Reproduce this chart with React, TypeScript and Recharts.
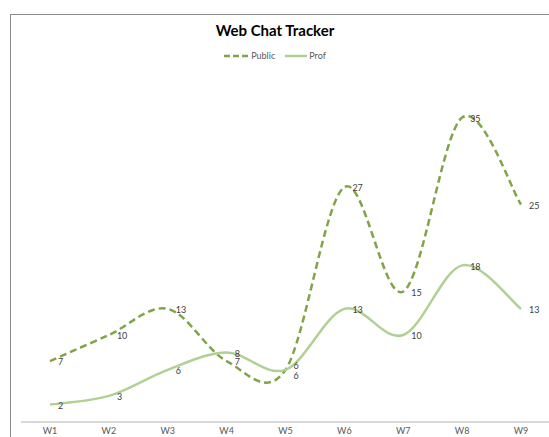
import React from 'react';
import { LineChart, Line, XAxis, YAxis, LabelList } from 'recharts';

const weeks = ['W1', 'W2', 'W3', 'W4', 'W5', 'W6', 'W7', 'W8', 'W9'];
const publicChats = [7, 10, 13, 7, 6, 27, 15, 35, 25];
const profChats = [2, 3, 6, 8, 6, 13, 10, 18, 13];

const data = weeks.map((w, i) => ({ week: w, Public: publicChats[i], Prof: profChats[i] }));

const FONT = 'Lato, "Open Sans", sans-serif';
const PUBLIC_COLOR = '#80a447';
const PROF_COLOR = '#b0d094';

// smooth curve like Excel's "smoothed line" (Catmull-Rom style bezier)
class SmoothCurve {
  ctx: any;
  pts: [number, number][] = [];
  constructor(ctx: any) {
    this.ctx = ctx;
  }
  areaStart() {}
  areaEnd() {}
  lineStart() {
    this.pts = [];
  }
  point(x: number, y: number) {
    this.pts.push([+x, +y]);
  }
  lineEnd() {
    const p = this.pts;
    if (!p.length) return;
    this.ctx.moveTo(p[0][0], p[0][1]);
    for (let i = 0; i < p.length - 1; i++) {
      const p0 = p[i - 1] || p[i];
      const p1 = p[i];
      const p2 = p[i + 1];
      const p3 = p[i + 2] || p2;
      this.ctx.bezierCurveTo(
        p1[0] + (p2[0] - p0[0]) / 6,
        p1[1] + (p2[1] - p0[1]) / 6,
        p2[0] - (p3[0] - p1[0]) / 6,
        p2[1] - (p3[1] - p1[1]) / 6,
        p2[0],
        p2[1]
      );
    }
  }
}
const smooth = (ctx: any) => new SmoothCurve(ctx);

const makeLabel = (shift: number) => (props: any) => {
  const { x, y, value, index } = props;
  const dy = index === 4 ? shift : 1;
  return (
    <text x={x + 8} y={y + dy} dy="0.35em" fontSize={9} fill="#404040" fontFamily={FONT}>
      {value}
    </text>
  );
};

const ChartLegend = () => (
  <div
    style={{
      position: 'absolute',
      left: 0,
      width: 528,
      top: 35,
      display: 'flex',
      justifyContent: 'center',
      fontSize: 9,
      color: '#595959',
      fontFamily: FONT,
    }}
  >
    <span style={{ display: 'flex', alignItems: 'center', marginRight: 10 }}>
      <svg width={24} height={6} style={{ marginRight: 3 }}>
        <line x1={0} y1={3} x2={24} y2={3} stroke={PUBLIC_COLOR} strokeWidth={2.5} strokeDasharray="6 3" />
      </svg>
      Public
    </span>
    <span style={{ display: 'flex', alignItems: 'center' }}>
      <svg width={22} height={6} style={{ marginRight: 2 }}>
        <line x1={0} y1={3} x2={22} y2={3} stroke={PROF_COLOR} strokeWidth={2.5} />
      </svg>
      Prof
    </span>
  </div>
);

export default function App() {
  return (
    <div style={{ position: 'fixed', left: 0, top: 0, width: 549, height: 437, overflow: 'hidden', background: '#fff' }}>
      <div
        style={{
          position: 'absolute',
          left: 10,
          top: 14,
          width: 560,
          height: 440,
          border: '1px solid #8c8c8c',
          boxSizing: 'border-box',
        }}
      >
        <div
          style={{
            position: 'absolute',
            left: 0,
            width: 528,
            top: 6,
            textAlign: 'center',
            fontFamily: FONT,
            fontWeight: 'bold',
            fontSize: 15,
            color: '#000',
          }}
        >
          Web Chat Tracker
        </div>
        <ChartLegend />
        <LineChart width={558} height={425} data={data} margin={{ top: 59, right: 19, left: 10, bottom: 0 }}>
          <XAxis
            dataKey="week"
            tickLine={false}
            tickSize={4}
            height={18}
            padding={{ left: 29, right: 29 }}
            stroke="#b3b3b3"
            tick={{ fontSize: 9, fill: '#595959', fontFamily: FONT }}
          />
          <YAxis hide domain={[0, 40]} />
          <Line
            dataKey="Public"
            type={smooth as any}
            stroke={PUBLIC_COLOR}
            strokeWidth={2.5}
            strokeDasharray="7 4"
            dot={false}
            isAnimationActive={false}
          >
            <LabelList dataKey="Public" content={makeLabel(6)} />
          </Line>
          <Line
            dataKey="Prof"
            type={smooth as any}
            stroke={PROF_COLOR}
            strokeWidth={2.5}
            dot={false}
            isAnimationActive={false}
          >
            <LabelList dataKey="Prof" content={makeLabel(-4)} />
          </Line>
        </LineChart>
      </div>
    </div>
  );
}
